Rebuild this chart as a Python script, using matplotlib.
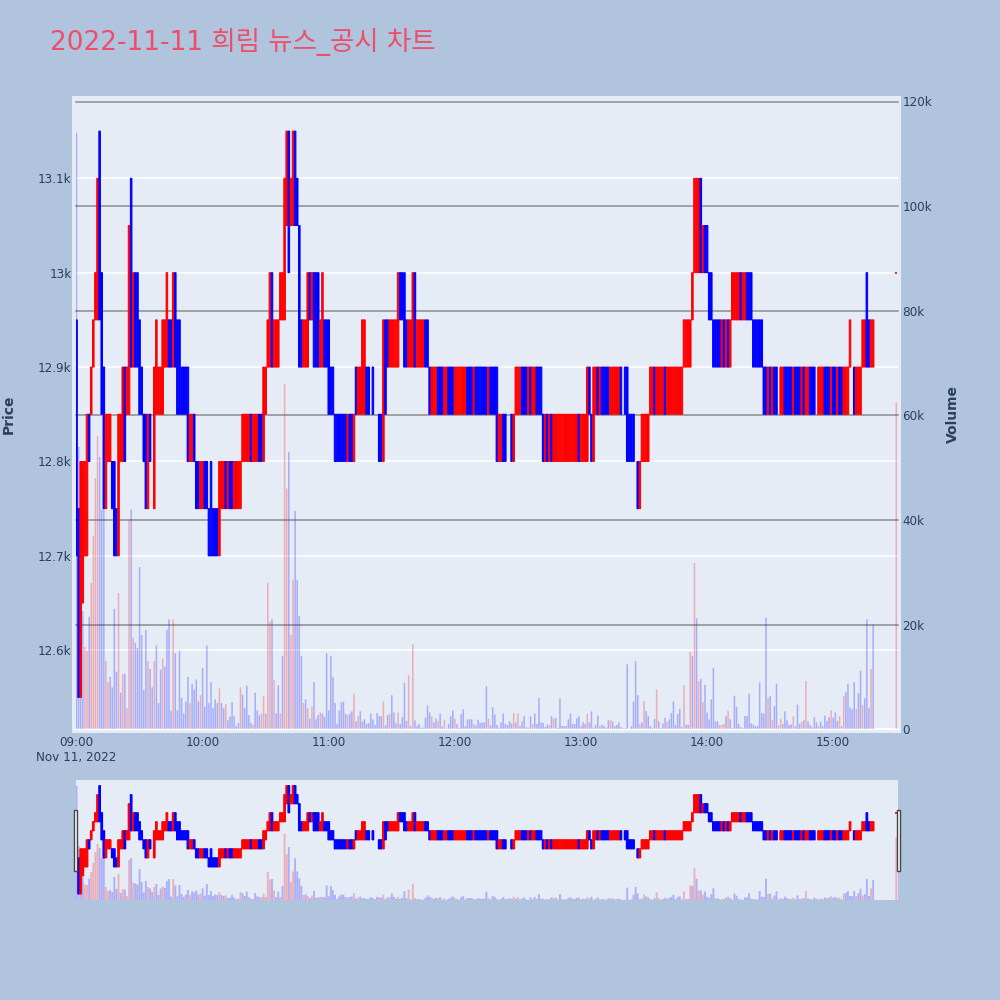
import numpy as np
import pandas as pd
import matplotlib
matplotlib.use("Agg")
import matplotlib.pyplot as plt
import matplotlib.dates as mdates
from matplotlib.patches import Rectangle

TITLE = "2022-11-11 희림 뉴스_공시 차트"
_ = None
opens = [
 12950,12750,12550,12650,12700,12700,12850,12850,12900,12950,
 12950,13150,13000,12900,12750,12800,12800,12800,12800,12750,
 12700,12800,12800,12900,12850,12850,13100,12900,13000,13000,
 12950,12900,12850,12850,12750,12850,_,12750,12850,12850,
 12850,12850,12900,12900,12950,12950,12900,13000,12950,12950,
 12900,12900,12900,12900,12800,12800,12850,12800,12800,12750,
 12750,12800,12800,12750,12800,12750,12750,12750,12700,12750,
 12750,12800,12750,12800,12800,12750,12750,12750,12750,12800,
 12800,12800,12800,12850,12800,12800,12800,12850,12850,12800,
 12850,12900,12900,13000,12900,12900,12900,12950,12950,12950,
 13050,13150,13050,13050,13150,13100,13050,12950,12900,12900,
 12900,13000,12950,13000,13000,13000,12900,12900,12950,12950,
 12950,12900,12900,12850,12850,12850,12850,12850,12850,12800,
 12850,12850,12800,12900,12850,12850,12850,12850,12900,12900,
 _,12900,_,_,12850,12850,12800,12950,12950,12900,
 12900,12900,12900,12900,13000,13000,13000,12950,12900,12900,
 12900,13000,12900,12900,12900,12900,12950,12950,12900,12850,
 12850,12850,12900,12900,12900,12850,12850,12900,12900,12900,
 12850,12850,12850,12850,12850,12850,12900,12900,12900,12850,
 12900,12900,12900,12900,12900,12900,12850,12900,12900,12900,
 12900,12800,12800,12850,12850,_,_,12850,12800,12850,
 12850,12850,12900,12900,12900,12850,12900,12850,12850,12900,
 12900,12900,12850,12800,12850,12800,12850,12800,12800,12800,
 12800,12800,12800,12800,12800,12800,12800,12800,12800,12850,
 12800,12800,12800,12800,12900,12850,12800,12850,12900,12850,
 12900,12900,12900,12900,12850,12850,12850,12850,12850,12900,
 _,12900,12900,12850,12850,12850,_,12800,12750,12800,
 12800,12800,12800,12850,12850,12900,12850,12850,12850,12850,
 12900,12850,12850,12850,12850,12850,12850,12850,12850,12900,
 12900,12900,12900,12950,13000,13000,13000,13100,13000,13050,
 13050,13000,13000,12950,12950,12950,12950,12900,12950,12900,
 12950,12900,12950,12950,12950,12950,13000,12950,12950,13000,
 13000,13000,12950,12950,12950,12950,12950,12900,12900,12850,
 12900,12850,12900,12900,_,12850,12850,12900,12900,12900,
 12900,12850,12900,12900,12900,12850,12900,12850,12850,12900,
 12900,12900,_,12850,12850,12850,12900,12900,12900,12850,
 12900,12900,12850,12900,12900,12850,12850,12850,12900,_,
 12900,12850,12850,12850,12900,12900,13000,12950,12900,12900,
 _,_,_,_,_,_,_,_,_,_,
 13000]
closes = [
 12700,12550,12800,12800,12800,12850,12800,12900,12950,13000,
 13100,12950,12850,12750,12850,12850,12850,12750,12700,12700,
 12850,12850,12900,12800,12900,13050,12900,13000,12900,12900,
 12850,12850,12800,12750,12850,12800,_,12900,12950,12900,
 12900,12950,12950,13000,12900,12900,13000,12900,12850,12850,
 12850,12850,12850,12800,12850,12850,12800,12750,12750,12800,
 12800,12750,12750,12700,12700,12700,12700,12700,12800,12800,
 12800,12750,12800,12750,12750,12800,12800,12800,12800,12850,
 12850,12850,12850,12800,12850,12850,12850,12800,12800,12900,
 12900,12950,13000,12900,12950,12950,12950,13000,13000,13100,
 13150,13000,13100,13150,13050,13050,12900,12900,12950,12950,
 13000,12950,13000,12900,12900,12900,12950,13000,12900,12900,
 12850,12850,12850,12800,12800,12800,12800,12800,12800,12850,
 12800,12800,12850,12850,12900,12900,12950,12950,12850,12850,
 _,12850,_,_,12800,12800,12950,12850,12900,12950,
 12950,12950,12950,13000,12950,12950,12900,12900,12950,12950,
 13000,12900,12950,12950,12950,12950,12900,12900,12850,12900,
 12900,12900,12850,12850,12850,12900,12900,12850,12850,12850,
 12900,12900,12900,12900,12900,12900,12850,12850,12850,12900,
 12850,12850,12850,12850,12850,12850,12900,12850,12850,12850,
 12800,12850,12850,12800,12800,_,_,12800,12850,12900,
 12900,12900,12850,12850,12850,12900,12850,12900,12900,12850,
 12850,12850,12800,12850,12800,12850,12800,12850,12850,12850,
 12850,12850,12850,12850,12850,12850,12850,12850,12850,12800,
 12850,12850,12850,12900,12850,12800,12900,12900,12850,12900,
 12850,12850,12850,12850,12900,12900,12900,12900,12900,12850,
 _,12850,12800,12800,12800,12800,_,12750,12800,12850,
 12850,12850,12850,12900,12900,12850,12900,12900,12900,12900,
 12850,12900,12900,12900,12900,12900,12900,12900,12900,12950,
 12950,12950,12950,13000,13100,13100,13100,13000,13050,13000,
 13000,12950,12950,12900,12900,12900,12900,12950,12900,12950,
 12900,12950,13000,13000,13000,13000,12950,13000,13000,12950,
 12950,12950,12900,12900,12900,12900,12900,12850,12850,12900,
 12850,12900,12850,12850,_,12900,12900,12850,12850,12850,
 12850,12900,12850,12850,12850,12900,12850,12900,12900,12850,
 12850,12850,_,12900,12900,12900,12850,12850,12850,12900,
 12850,12850,12900,12850,12850,12900,12900,12900,12950,_,
 12850,12900,12900,12900,12950,12950,12900,12900,12950,12950,
 _,_,_,_,_,_,_,_,_,_,
 13000]
volumes_k = [
 114,54,6,22.6,15.7,15,21.5,28,37,48,
 56,52,42,42,13,9,10,8,23,11,
 26,7,10.5,10.6,4,40,42,17.5,16.5,15.5,
 31,18,7.5,19,13,11.5,8,13,16,5,
 11.4,13.5,12,19,21,3.5,21,14.5,3.6,15,
 6,3,5.3,10,5,8.7,7.6,9.5,5.3,6.5,
 11.7,4.3,16,5,9,4,5.7,5,7.8,5,
 4,4.8,1.7,2.4,5.2,2.5,.6,1.2,8,6.6,
 4,8.3,2.7,1.2,.8,7,3.6,2.7,3,6.3,
 3,28,20.5,21,9.4,3,8.4,3,14,66,
 46,53,18,28.6,41.7,28.5,21.6,14,5,5.7,
 4,2,4.3,9,1.9,2.7,3.2,3,2.4,14.5,
 3.6,14,10,5,1,3.6,5.2,5.3,3,2.7,
 3,3.4,6.8,1.5,2.5,3.4,1.5,1.9,1,1.2,
 3,1.9,.8,3.1,2.5,2.5,5.3,.7,2.7,2.9,
 6.5,3.2,1.1,3.2,1,2.3,8.9,1.6,10.3,.6,
 16.2,1.7,.6,1,.3,.3,2.2,4.5,3.2,2.4,
 1.3,2,1.6,3,.5,1.8,.2,1,2.5,3.6,
 2,1,.2,2.9,3.8,.6,1.9,1.9,1.9,1,
 .7,1.8,1.2,1.3,1.3,8.2,2,.7,4.2,2.8,
 .8,.3,1.3,3,1,.8,1.5,1.1,3.1,1.3,
 3,.6,1.5,2.5,.4,.3,2.5,1,3,1,
 6,1.3,1.2,.4,.9,.8,2.5,2,2.2,.3,
 5.9,.6,.6,.6,1.9,3,1,1,2.1,2.5,
 .6,1.3,1,2.9,1.3,3.4,.3,.8,2.6,.6,
 .9,.6,.3,1.7,1.7,1.5,.6,.8,1.3,.4,
 .2,.2,12.4,.1,.6,5.3,13,6.5,1,1.3,
 5.4,3.5,2.5,.6,.3,2,7.6,1.5,.2,1.1,
 2.2,1.4,1.9,3.1,5.3,.8,2.9,3.9,.4,8.4,
 .9,.8,14.8,14,31.8,21.2,9.2,9.6,5.2,8.5,
 3.2,1.9,5.7,11.7,1.5,1.5,.8,.8,1,2.5,
 3.5,1.9,.2,6.4,4.3,1,.4,.2,2.5,2.5,
 6.8,1.1,.9,.6,.6,8.9,3.1,3,21.3,6,
 6.4,1.7,4.4,8.7,.8,2,1,3.4,1.7,.8,
 .9,2.4,.6,4.7,1,1.4,1.7,9.2,1.5,.8,
 .4,2.3,1.3,.6,1.5,.6,2.6,1.6,2.3,3.6,
 2.2,3.2,1.6,2.5,.6,6.4,7.1,8.7,4.1,3.8,
 9,3.9,6.9,11.2,4.6,5.9,21,4,11.5,20,
 _,_,_,_,_,_,_,_,_,_,
 62.5]
red_volume_minutes = [4,5,7,8,9,10,14,15,20,22,24,25,27,34,37,41,46,54,59,68,71,78,84,88,89,
 91,92,94,97,99,100,102,103,108,110,112,116,129,132,134,146,149,153,158,160,169,172,175,
 180,189,196,201,208,210,217,225,227,240,243,249,254,263,268,270,274,276,281,289,292,294,
 296,298,306,307,308,310,329,331,334,335,341,345,347,353,359,363,365,371,374,378,390]

price_ticks = [12600, 12700, 12800, 12900, 13000, 13100]
price_labels = ["12.6k", "12.7k", "12.8k", "12.9k", "13k", "13.1k"]
vol_ticks = [0, 20, 40, 60, 80, 100, 120]
vol_labels = ["0", "20k", "40k", "60k", "80k", "100k", "120k"]
time_labels = ["09:00", "10:00", "11:00", "12:00", "13:00", "14:00", "15:00"]
date_label = "Nov 11, 2022"

BG, PANEL, INK = "#B0C4DE", "#E5ECF6", "#2a3f5f"
UP, DOWN = "#ff0000", "#0000ff"

o = np.array(opens, dtype=float)
c = np.array(closes, dtype=float)
v = np.array(volumes_k, dtype=float)
times = pd.date_range("2022-11-11 09:00", periods=len(o), freq="min")
x = mdates.date2num(times)
MIN = 1 / 1440
red_v = np.zeros(len(v), bool)
red_v[red_volume_minutes] = True
t0 = x[0]

fig = plt.figure(figsize=(10, 10), dpi=100, facecolor=BG)
def fx(px): return px / 1000
def fy(px): return 1 - px / 1000
def box(l, t, r, b): return [fx(l), fy(b), fx(r) - fx(l), fy(t) - fy(b)]

fig.add_artist(Rectangle((fx(72), fy(733)), fx(829), fx(637), transform=fig.transFigure,
                         facecolor=PANEL, edgecolor="none", zorder=-1))

XLIM = (t0 - 0.24 * MIN, t0 + 390.58 * MIN)
PLIM = (12516.3, 13181.4)
VLIM = (0, 120)
pos = box(76, 101.5, 897.5, 729.2)

def draw_candles(ax, width, edge):
    valid = ~np.isnan(o)
    solid = valid & (c != o)
    flat = valid & (c == o)
    cols = np.where(c[solid] > o[solid], UP, DOWN)
    bars = ax.bar(x[solid], (c - o)[solid], bottom=o[solid], width=width * MIN,
                  color=cols, edgecolor=cols, linewidth=edge)
    for b in bars:
        b.set_snap(False)
    ax.hlines(o[flat], x[flat] - 0.5 * MIN, x[flat] + 0.5 * MIN, color=UP, linewidth=1.2)

def draw_volume(ax, width, alpha):
    valid = ~np.isnan(v)
    for mask, col in ((valid & ~red_v, DOWN), (valid & red_v, UP)):
        bars = ax.bar(x[mask], v[mask], width=width * MIN, color=col, alpha=alpha, linewidth=0)
        for b in bars:
            b.set_snap(False)

# white price grid (bottom layer)
ax_bg = fig.add_axes(pos, facecolor="none")
ax_bg.set_xlim(XLIM); ax_bg.set_ylim(PLIM)
ax_bg.set_yticks(price_ticks)
ax_bg.tick_params(length=0, labelleft=False, labelbottom=False)
ax_bg.set_xticks([])
ax_bg.grid(True, axis="y", color="white", linewidth=1.1)
ax_bg.set_axisbelow(True)
for s in ax_bg.spines.values():
    s.set_visible(False)

# volume axis (grey grid, pale bars)
ax_v = fig.add_axes(pos, facecolor="none")
ax_v.set_xlim(XLIM); ax_v.set_ylim(VLIM)
ax_v.yaxis.tick_right()
ax_v.set_yticks(vol_ticks, vol_labels)
ax_v.set_xticks([])
ax_v.tick_params(axis="y", length=0, pad=3.6, labelsize=8.64, labelcolor=INK)
ax_v.grid(True, axis="y", color="#8c8c8c", linewidth=1.1)
ax_v.set_axisbelow(True)
for gl, t in zip(ax_v.get_ygridlines(), vol_ticks):
    gl.set_clip_on(False)
    if t == 0:
        gl.set_color("white"); gl.set_linewidth(1.6)
for s in ax_v.spines.values():
    s.set_visible(False)
draw_volume(ax_v, 0.72, 0.27)
ax_v.yaxis.set_label_position("right")
ax_v.set_ylabel("Volume", color=INK, fontsize=10, fontweight="bold", va="center")
ax_v.yaxis.set_label_coords((953 - 76) / 821.5, 1 - (414 - 101.5) / 627.7)

# price axis (candles on top)
ax = fig.add_axes(pos, facecolor="none")
ax.set_xlim(XLIM); ax.set_ylim(PLIM)
ax.set_yticks(price_ticks, price_labels)
xt = [t0 + i * 60 * MIN for i in range(len(time_labels))]
ax.set_xticks(xt, time_labels)
ax.tick_params(axis="y", length=0, pad=3.2, labelsize=8.64, labelcolor=INK)
ax.tick_params(axis="x", length=0, pad=5, labelsize=8.64, labelcolor=INK)
for s in ax.spines.values():
    s.set_visible(False)
draw_candles(ax, 0.72, 0.75)
ax.set_ylabel("Price", color=INK, fontsize=10, fontweight="bold", va="center")
ax.yaxis.set_label_coords((9 - 76) / 821.5, 1 - (414 - 101.5) / 627.7)
ax.text(t0, -(757.5 - 729.2) / 627.7, date_label, transform=ax.get_xaxis_transform(),
        ha="center", va="center", color=INK, fontsize=8.64)

# range slider
mpos = box(76, 780, 897.5, 900)
m_v = fig.add_axes(mpos, facecolor=PANEL)
m_v.set_xlim(XLIM); m_v.set_ylim(VLIM)
m_v.set_xticks([]); m_v.set_yticks([])
for s in m_v.spines.values():
    s.set_visible(False)
draw_volume(m_v, 0.9, 0.25)
m_p = fig.add_axes(mpos, facecolor="none")
m_p.set_xlim(XLIM); m_p.set_ylim(PLIM)
m_p.set_xticks([]); m_p.set_yticks([])
for s in m_p.spines.values():
    s.set_visible(False)
draw_candles(m_p, 0.72, 0.9)

for left in (73.7, 896.7):
    fig.add_artist(Rectangle((fx(left), fy(870.5)), fx(3.2), fx(60.5), transform=fig.transFigure,
                             facecolor="white", edgecolor="#444444", linewidth=1, zorder=10))

fig.text(fx(50), fy(50), TITLE, color="#EF4E6A", fontsize=19, ha="left", va="baseline",
         family=["DejaVu Sans", "Noto Sans CJK KR"])

fig.savefig("out.png", dpi=100, facecolor=BG)
